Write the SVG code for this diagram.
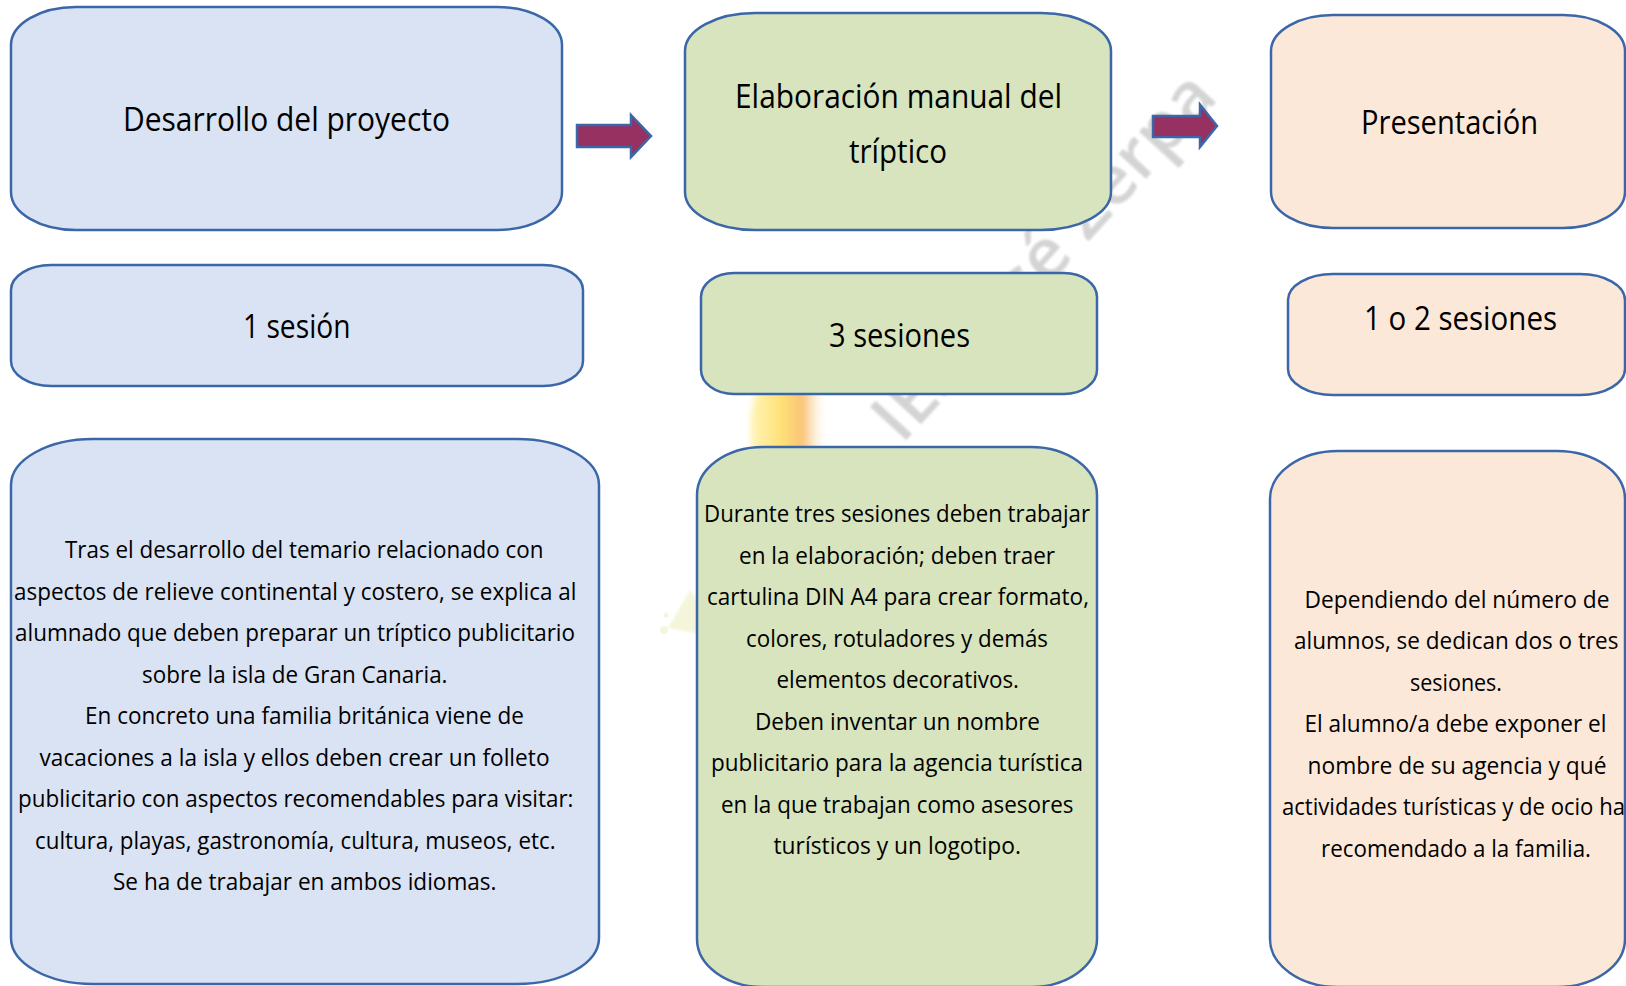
<svg xmlns="http://www.w3.org/2000/svg" width="1626" height="986" viewBox="0 0 1626 986">
<defs>
<style>
.box{stroke:#3B67A8;stroke-width:2.5}
.blue{fill:#DAE3F3}
.green{fill:#D7E4BD}
.orange{fill:#FCE8D9}
.t{font-family:"Open Sans","Noto Sans","Liberation Sans",sans-serif;fill:#000}
.title{font-size:32px}
.body{font-size:24.5px}
.arrow{fill:#963162;stroke:#3B67A8;stroke-width:2.5;stroke-linejoin:miter}
.wm{font-family:"Open Sans","Noto Sans","Liberation Sans",sans-serif;font-size:68px;font-weight:600;fill:#C6C6C6;opacity:0.75}
</style>
<linearGradient id="flame" x1="0" y1="0" x2="1" y2="0">
<stop offset="0" stop-color="#FFF3B0"/>
<stop offset="0.4" stop-color="#FFDD60"/>
<stop offset="0.7" stop-color="#F8B860"/>
<stop offset="1" stop-color="#FFF4E4" stop-opacity="0"/>
</linearGradient>
<filter id="blur" x="-50%" y="-50%" width="200%" height="200%"><feGaussianBlur stdDeviation="3"/></filter>
<filter id="blur2" x="-50%" y="-50%" width="200%" height="200%"><feGaussianBlur stdDeviation="1.2"/></filter>
</defs>
<rect width="1626" height="986" fill="#FFFFFF"/>

<g id="watermark">
<text class="wm" x="0" y="0" transform="translate(902,445) rotate(-47.5)" textLength="470" lengthAdjust="spacingAndGlyphs" filter="url(#blur2)">IES José Zerpa</text>
<ellipse cx="788" cy="428" rx="38" ry="66" fill="url(#flame)" filter="url(#blur)" opacity="0.85"/>
<polygon points="668,628 690,590 698,600 698,634" fill="#EEF0C4" opacity="0.6" filter="url(#blur2)"/>
<circle cx="664" cy="630" r="4" fill="#EEF0C4" opacity="0.6"/>
<circle cx="666" cy="615" r="2.5" fill="#EEF0C4" opacity="0.6"/>
</g>

<g id="connectors">
<polygon class="arrow" points="577,125 631,125 631,115 651,136 631,157 631,147 577,147"/>
<polygon class="arrow" points="1153,116 1200,116 1200,104.5 1217,126 1200,147 1200,137 1153,137"/>
</g>

<g id="node-desarrollo">
<rect class="box blue" x="11" y="7" width="551" height="223" rx="65" ry="38"/>
<text class="t title" x="123" y="131" textLength="327" lengthAdjust="spacingAndGlyphs">Desarrollo del proyecto</text>
</g>

<g id="node-1sesion">
<rect class="box blue" x="11" y="265" width="572" height="121" rx="40" ry="25"/>
<text class="t title" x="243" y="338" textLength="107.5" lengthAdjust="spacingAndGlyphs">1 sesión</text>
</g>

<g id="node-desarrollo-texto">
<rect class="box blue" x="11" y="439" width="588" height="545" rx="82" ry="46"/>
<text class="t body" x="65" y="558" textLength="478.5" lengthAdjust="spacingAndGlyphs">Tras el desarrollo del temario relacionado con</text>
<text class="t body" x="14" y="599.5" textLength="562.5" lengthAdjust="spacingAndGlyphs">aspectos de relieve continental y costero, se explica al</text>
<text class="t body" x="15" y="641" textLength="560" lengthAdjust="spacingAndGlyphs">alumnado que deben preparar un tríptico publicitario</text>
<text class="t body" x="142" y="682.5" textLength="305.5" lengthAdjust="spacingAndGlyphs">sobre la isla de Gran Canaria.</text>
<text class="t body" x="85" y="724" textLength="439" lengthAdjust="spacingAndGlyphs">En concreto una familia británica viene de</text>
<text class="t body" x="39.5" y="765.5" textLength="510" lengthAdjust="spacingAndGlyphs">vacaciones a la isla y ellos deben crear un folleto</text>
<text class="t body" x="18" y="807" textLength="555.5" lengthAdjust="spacingAndGlyphs">publicitario con aspectos recomendables para visitar:</text>
<text class="t body" x="35" y="848.5" textLength="520.5" lengthAdjust="spacingAndGlyphs">cultura, playas, gastronomía, cultura, museos, etc.</text>
<text class="t body" x="113" y="890" textLength="383.5" lengthAdjust="spacingAndGlyphs">Se ha de trabajar en ambos idiomas.</text>
</g>

<g id="node-elaboracion">
<rect class="box green" x="685" y="13" width="426" height="217" rx="70" ry="38"/>
<text class="t title" x="735" y="108" textLength="327" lengthAdjust="spacingAndGlyphs">Elaboración manual del</text>
<text class="t title" x="849" y="163" textLength="98" lengthAdjust="spacingAndGlyphs">tríptico</text>
</g>

<g id="node-3sesiones">
<rect class="box green" x="701" y="273" width="396" height="121" rx="33" ry="24"/>
<text class="t title" x="829" y="347" textLength="141" lengthAdjust="spacingAndGlyphs">3 sesiones</text>
</g>

<g id="node-elaboracion-texto">
<rect class="box green" x="697" y="447" width="400" height="540" rx="66" ry="48"/>
<text class="t body" x="704" y="522" textLength="386" lengthAdjust="spacingAndGlyphs">Durante tres sesiones deben trabajar</text>
<text class="t body" x="739" y="563.5" textLength="316" lengthAdjust="spacingAndGlyphs">en la elaboración; deben traer</text>
<text class="t body" x="707" y="605" textLength="382" lengthAdjust="spacingAndGlyphs">cartulina DIN A4 para crear formato,</text>
<text class="t body" x="746" y="646.5" textLength="302" lengthAdjust="spacingAndGlyphs">colores, rotuladores y demás</text>
<text class="t body" x="776.5" y="688" textLength="242.5" lengthAdjust="spacingAndGlyphs">elementos decorativos.</text>
<text class="t body" x="755" y="729.5" textLength="285" lengthAdjust="spacingAndGlyphs">Deben inventar un nombre</text>
<text class="t body" x="711" y="771" textLength="372" lengthAdjust="spacingAndGlyphs">publicitario para la agencia turística</text>
<text class="t body" x="721" y="812.5" textLength="352.5" lengthAdjust="spacingAndGlyphs">en la que trabajan como asesores</text>
<text class="t body" x="773.5" y="854" textLength="247.5" lengthAdjust="spacingAndGlyphs">turísticos y un logotipo.</text>
</g>

<g id="node-presentacion">
<rect class="box orange" x="1271" y="15" width="354" height="213" rx="62" ry="36"/>
<text class="t title" x="1361" y="134" textLength="177" lengthAdjust="spacingAndGlyphs">Presentación</text>
</g>

<g id="node-1o2sesiones">
<rect class="box orange" x="1288" y="274" width="337" height="121" rx="45" ry="26"/>
<text class="t title" x="1364" y="330" textLength="193" lengthAdjust="spacingAndGlyphs">1 o 2 sesiones</text>
</g>

<g id="node-presentacion-texto">
<rect class="box orange" x="1270" y="451" width="355" height="536" rx="68" ry="48"/>
<text class="t body" x="1304.5" y="607.5" textLength="305" lengthAdjust="spacingAndGlyphs">Dependiendo del número de</text>
<text class="t body" x="1294" y="649" textLength="324.5" lengthAdjust="spacingAndGlyphs">alumnos, se dedican dos o tres</text>
<text class="t body" x="1410" y="690.5" textLength="92" lengthAdjust="spacingAndGlyphs">sesiones.</text>
<text class="t body" x="1304.5" y="732" textLength="302" lengthAdjust="spacingAndGlyphs">El alumno/a debe exponer el</text>
<text class="t body" x="1307.5" y="773.5" textLength="299" lengthAdjust="spacingAndGlyphs">nombre de su agencia y qué</text>
<text class="t body" x="1282" y="815" textLength="343" lengthAdjust="spacingAndGlyphs">actividades turísticas y de ocio ha</text>
<text class="t body" x="1321" y="856.5" textLength="270" lengthAdjust="spacingAndGlyphs">recomendado a la familia.</text>
</g>
</svg>
